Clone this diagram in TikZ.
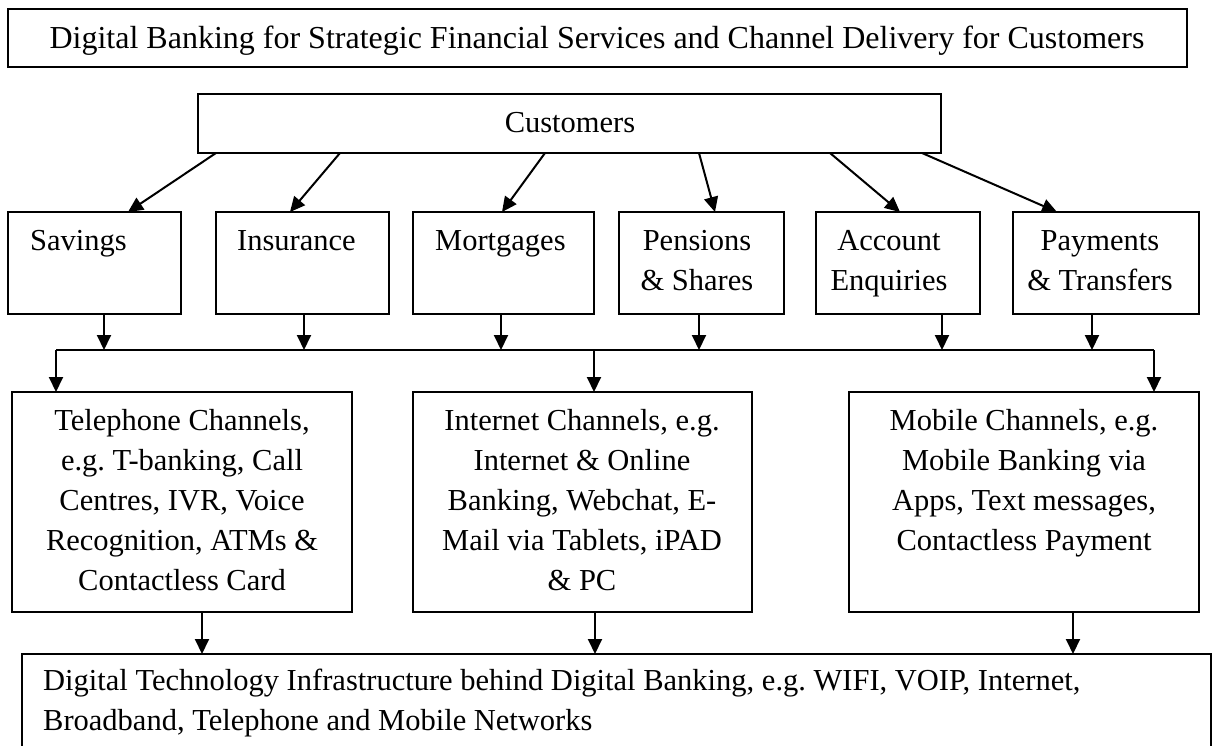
\documentclass[tikz,border=0pt]{standalone}
\usepackage{fontspec}
\setmainfont{Liberation Serif}
\usetikzlibrary{arrows.meta,calc}
\newcommand\bodyfont{\fontsize{30.5}{40}\selectfont\frenchspacing}
\newcommand\headfont{\fontsize{32}{40}\selectfont\frenchspacing}
\begin{document}
\begin{tikzpicture}[x=1pt,y=-1pt,
  box/.style={draw, line width=1.8pt, inner sep=0pt, outer sep=0pt, anchor=north west},
  txt/.style={inner sep=0pt, font=\bodyfont, align=center},
  ltxt/.style={inner sep=0pt, font=\bodyfont, align=left},
  arr/.style={line width=2pt, -{Triangle[length=15pt,width=14pt]}},
  ln/.style={line width=2pt}]
\useasboundingbox (0,0) rectangle (1216,746);

% boxes
\node[box, minimum width=1179pt, minimum height=58pt] (title) at (8,9) {};
\node[box, minimum width=743pt, minimum height=59pt] (cust) at (198,94) {};
\node[box, minimum width=173pt, minimum height=102pt] (sav) at (8,212) {};
\node[box, minimum width=173pt, minimum height=102pt] (ins) at (216,212) {};
\node[box, minimum width=181pt, minimum height=102pt] (mort) at (413,212) {};
\node[box, minimum width=165pt, minimum height=102pt] (pen) at (619,212) {};
\node[box, minimum width=164pt, minimum height=102pt] (acc) at (816,212) {};
\node[box, minimum width=186pt, minimum height=102pt] (pay) at (1013,212) {};
\node[box, minimum width=340pt, minimum height=220pt] (tel) at (12,392) {};
\node[box, minimum width=339pt, minimum height=220pt] (inet) at (413,392) {};
\node[box, minimum width=350pt, minimum height=220pt] (mob) at (849,392) {};
\node[box, minimum width=1189pt, minimum height=100pt] (infra) at (22,654) {};

% texts
\node[inner sep=0pt, font=\headfont, anchor=base] (titlet) at (597,49)
  {Digital Banking for Strategic Financial Services and Channel Delivery for Customers};
\node[txt, anchor=base] (custt) at (570,133) {Customers};
\node[txt, anchor=base west] (savt) at (30,251) {Savings};
\node[txt, anchor=base west] (inst) at (237,251) {Insurance};
\node[txt, anchor=base west] (mortt) at (435,251) {Mortgages};
\node[txt, anchor=north] (pent) at (697,222) {\strut Pensions\\\& Shares};
\node[txt, anchor=north] (acct) at (889,222) {\strut Account\\Enquiries};
\node[txt, anchor=north] (payt) at (1100,222) {\strut Payments\\\& Transfers};
\node[txt, anchor=north] (telt) at (182,402)
  {\strut Telephone Channels,\\e.g. T-banking, Call\\Centres, IVR, Voice\\Recognition, ATMs \&\\Contactless Card};
\node[txt, anchor=north] (inett) at (582,402)
  {\strut Internet Channels, e.g.\\Internet \& Online\\Banking, Webchat, E-\\Mail via Tablets, iPAD\\\& PC};
\node[txt, anchor=north] (mobt) at (1024,402)
  {\strut Mobile Channels, e.g.\\Mobile Banking via\\Apps, Text messages,\\Contactless Payment};
\node[ltxt, anchor=north west] (infrat) at (43,662)
  {\strut Digital Technology Infrastructure behind Digital Banking, e.g. WIFI, VOIP, Internet,\\Broadband, Telephone and Mobile Networks};

% customers to products
\draw[arr] ($(cust.south west)+(18,0)$) -- ($(sav.north west)+(120,0)$);
\draw[arr] ($(cust.south west)+(142,0)$) -- ($(ins.north west)+(74,0)$);
\draw[arr] ($(cust.south west)+(347,0)$) -- ($(mort.north west)+(89,0)$);
\draw[arr] ($(cust.south west)+(501,0)$) -- ($(pen.north west)+(96,0)$);
\draw[arr] ($(cust.south west)+(632,0)$) -- ($(acc.north west)+(84,0)$);
\draw[arr] ($(cust.south west)+(724,0)$) -- ($(pay.north west)+(44,0)$);

% bus
\coordinate (busL) at (56,350);
\coordinate (busM) at (594,350);
\coordinate (busR) at (1154,350);
\draw[ln] (busL) -- (busR);

\coordinate (s1) at ($(sav.south west)+(96,0)$);
\coordinate (s2) at ($(ins.south west)+(88,0)$);
\coordinate (s3) at ($(mort.south west)+(88,0)$);
\coordinate (s4) at ($(pen.south west)+(80,0)$);
\coordinate (s5) at ($(acc.south west)+(126,0)$);
\coordinate (s6) at ($(pay.south west)+(79,0)$);
\foreach \s in {s1,s2,s3,s4,s5,s6}
  \draw[arr] (\s) -- (\s |- busL);

\draw[arr] (busL) -- (tel.north -| busL);
\draw[arr] (busM) -- (inet.north -| busM);
\draw[arr] (busR) -- (mob.north -| busR);

% channels to infrastructure
\coordinate (c1) at ($(tel.south west)+(190,0)$);
\coordinate (c2) at ($(inet.south west)+(182,0)$);
\coordinate (c3) at ($(mob.south west)+(224,0)$);
\draw[arr] (c1) -- (c1 |- infra.north);
\draw[arr] (c2) -- (c2 |- infra.north);
\draw[arr] (c3) -- (c3 |- infra.north);
\end{tikzpicture}
\end{document}
